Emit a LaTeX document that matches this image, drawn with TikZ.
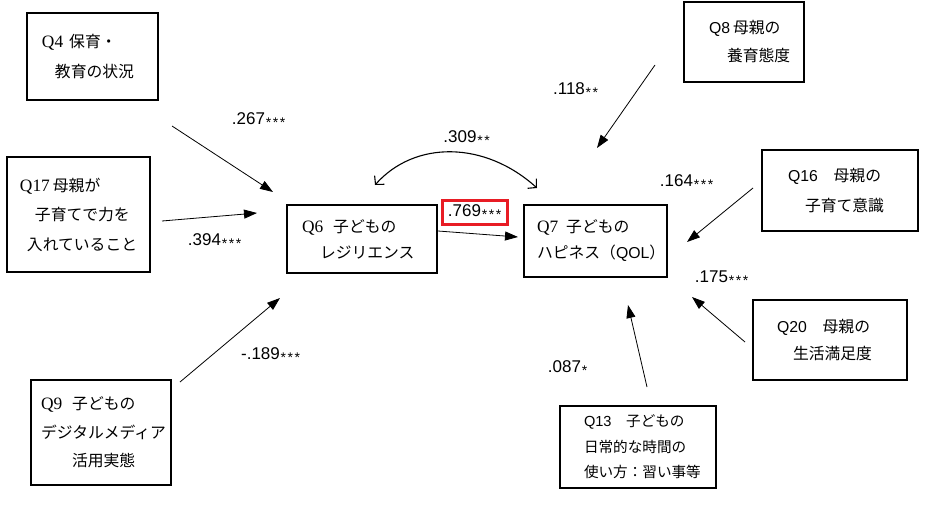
\documentclass[tikz,border=0pt]{standalone}
\usepackage{fontspec}
\setmainfont{Noto Sans CJK JP}
\newfontfamily\qserif{Liberation Serif}[Scale=1.1]
\newfontfamily\qsans{Liberation Sans}
\usepackage{tikz}
\usetikzlibrary{arrows.meta,positioning}
\definecolor{markred}{RGB}{232,28,36}
% significance stars
\newcommand{\sig}[1]{\foreach \k in {1,...,#1}{\makebox[7pt]{\raisebox{-3pt}{\fontsize{14}{14}\selectfont *}}}}

\begin{document}
\begin{tikzpicture}[x=1pt, y=-1pt, >={Triangle[length=13pt,width=9pt]},
  qbox/.style={draw, line width=1.8pt, align=left, anchor=center, inner xsep=0pt, inner ysep=0pt},
  coef/.style={font=\qsans\fontsize{17}{17}\selectfont, inner sep=0pt},
  path/.style={->, line width=0.8pt}]
  \useasboundingbox (0,0) rectangle (938,506);

  % ---- boxes ----
  \node[qbox, font=\fontsize{15.8}{30}\selectfont, text width=131pt, minimum height=87pt] (q4) at (92.5,56.5)
    {\hspace*{15pt}{\qserif Q4}\hspace{6pt}保育・\\\hspace*{28pt}教育の状況};
  \node[qbox, font=\fontsize{15.8}{29.5}\selectfont, text width=143pt, minimum height=115pt] (q17) at (78.5,214.5)
    {\hspace*{13pt}{\qserif Q17}\hspace{3pt}母親が\\\hspace*{28pt}子育てで力を\\\hspace*{20pt}入れていること};
  \node[qbox, font=\fontsize{15.8}{28.5}\selectfont, text width=140pt, minimum height=105pt] (q9) at (101,432.5)
    {\hspace*{10pt}{\qserif Q9}\hspace{10pt}子どもの\\\hspace*{10pt}デジタルメディア\\\hspace*{41pt}活用実態};
  \node[qbox, font=\fontsize{15.8}{26}\selectfont, text width=150pt, minimum height=68pt] (q6) at (362,239)
    {\hspace*{15pt}{\qserif Q6}\hspace{10pt}子どもの\\\hspace*{33pt}レジリエンス};
  \node[qbox, font=\fontsize{15.8}{26}\selectfont, text width=143pt, minimum height=72pt] (q7) at (595.5,241)
    {\hspace*{13pt}{\qserif Q7}\hspace{8pt}子どもの\\\hspace*{13pt}ハピネス（{\qsans QOL}）};
  \node[qbox, font=\fontsize{15.8}{28}\selectfont, text width=120pt, minimum height=80pt] (q8) at (744,42)
    {\hspace*{25pt}{\qsans Q8}\hspace{3pt}母親の\\\hspace*{43pt}養育態度};
  \node[qbox, font=\fontsize{15.8}{30}\selectfont, text width=156pt, minimum height=81pt] (q16) at (840,190.5)
    {\hspace*{26pt}{\qsans Q16}　母親の\\\hspace*{43pt}子育て意識};
  \node[qbox, font=\fontsize{15.8}{27}\selectfont, text width=154pt, minimum height=80pt] (q20) at (830,340)
    {\hspace*{24pt}{\qsans Q20}　母親の\\\hspace*{40pt}生活満足度};
  \node[qbox, font=\fontsize{14.6}{25.5}\selectfont, text width=156pt, minimum height=82pt] (q13) at (638,447)
    {\hspace*{24pt}{\qsans Q13}　子どもの\\\hspace*{24pt}日常的な時間の\\\hspace*{24pt}使い方：習い事等};

  % ---- coefficients ----
  \node[coef] (c267) at (259,120) {.267\sig{3}};
  \node[coef] (c394) at (215,241) {.394\sig{3}};
  \node[coef] (c189) at (271,355) {-.189\sig{3}};
  \node[coef] (c309) at (467,138) {.309\sig{2}};
  \node[coef, draw=markred, line width=3.2pt, minimum width=65pt, minimum height=24pt] (c769) at (475,212.5) {.769\sig{3}};
  \node[coef] (c118) at (576,90) {.118\sig{2}};
  \node[coef] (c164) at (687,182) {.164\sig{3}};
  \node[coef] (c175) at (722,278) {.175\sig{3}};
  \node[coef] (c087) at (568,368) {.087\sig{1}};

  % ---- arrow ends ----
  \coordinate (q4tail) at (172,126);   \coordinate (q4head) at (273,192);
  \coordinate (q17tail) at (162,221);  \coordinate (q17head) at (257,213);
  \coordinate (q9tail) at (180,382);   \coordinate (q9head) at (280,298);
  \coordinate (q6tail) at (438,231);   \coordinate (q6head) at (518,237);
  \coordinate (q8tail) at (655,65);    \coordinate (q8head) at (597,148);
  \coordinate (q16tail) at (753,188);  \coordinate (q16head) at (687,242);
  \coordinate (q20tail) at (745,342);  \coordinate (q20head) at (692,297);
  \coordinate (q13tail) at (647,387);  \coordinate (q13head) at (628,305);
  \coordinate (corrL) at (375,185);    \coordinate (corrR) at (537,188);

  % ---- paths ----
  \draw[path] (q4tail) -- (q4head);
  \draw[path] (q17tail) -- (q17head);
  \draw[path] (q9tail) -- (q9head);
  \draw[path] (q6tail) -- (q6head);
  \draw[path] (q8tail) -- (q8head);
  \draw[path] (q16tail) -- (q16head);
  \draw[path] (q20tail) -- (q20head);
  \draw[path] (q13tail) -- (q13head);
  % correlation
  \draw[{Straight Barb[length=6pt,width=13pt]}-{Straight Barb[length=6pt,width=13pt]}, line width=1.1pt]
    (corrL) .. controls (415,140) and (485,141) .. (corrR);
\end{tikzpicture}
\end{document}
